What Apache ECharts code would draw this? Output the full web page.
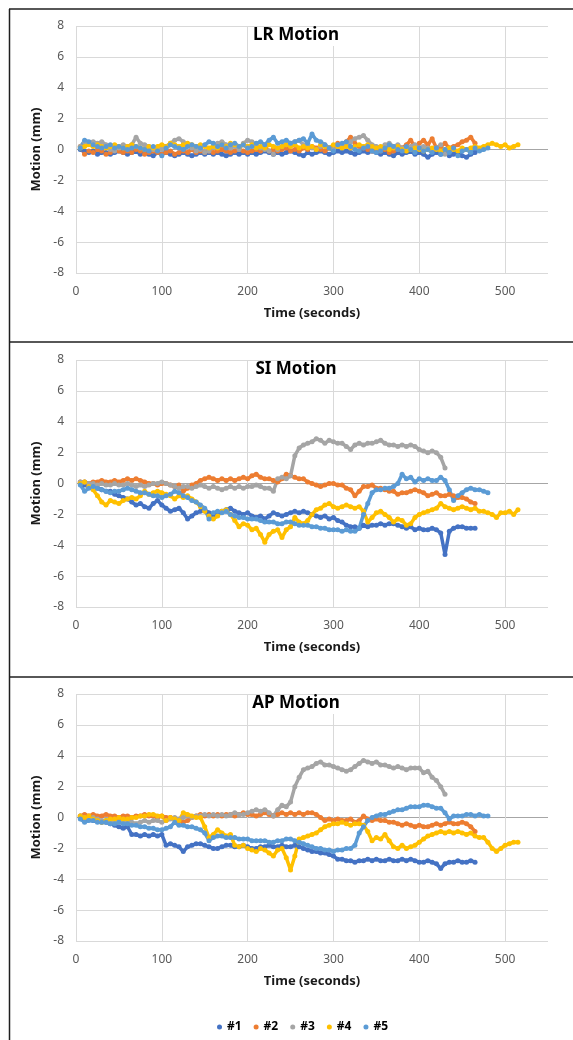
<!DOCTYPE html>
<html>
<head>
<meta charset="utf-8">
<title>Motion</title>
<script src="https://cdn.jsdelivr.net/npm/echarts@6.0.0/dist/echarts.min.js"></script>
<style>
  html, body { margin: 0; padding: 0; background: #fff; }
  #chart { width: 573px; height: 1040px; }
</style>
</head>
<body>
<div id="chart"></div>
<script>
// subjects / colours
var names = ['#1', '#2', '#3', '#4', '#5'];
var colors = ['#4472C4', '#ED7D31', '#A5A5A5', '#FFC000', '#5B9BD5'];
var titles = ['LR Motion', 'SI Motion', 'AP Motion'];
var xTicks = [0, 100, 200, 300, 400, 500];
var yTicks = [-8, -6, -4, -2, 0, 2, 4, 6, 8];

// values, one every 5 s starting at t = 5 s
var t0 = 5, dt = 5;

// LR motion (mm)
var lr1 = [0, -0.1, -0.2, -0.1, -0.3, -0.2, -0.2, -0.3, -0.2, -0.1,
  -0.2, -0.3, -0.2, -0.1, -0.3, -0.2, -0.3, -0.4, -0.2, -0.3,
  -0.2, -0.3, -0.4, -0.3, -0.2, -0.3, -0.4, -0.3, -0.2, -0.3,
  -0.2, -0.3, -0.2, -0.3, -0.4, -0.3, -0.2, -0.3, -0.2, -0.3,
  -0.2, -0.3, -0.2, -0.1, -0.2, -0.3, -0.2, -0.3, -0.2, -0.1,
  -0.2, -0.3, -0.4, -0.2, -0.3, -0.2, -0.1, -0.2, -0.3, -0.2,
  -0.1, -0.2, -0.1, -0.2, -0.3, -0.2, -0.1, -0.2, -0.1, -0.2,
  -0.3, -0.2, -0.3, -0.4, -0.2, -0.3, -0.2, -0.1, -0.3, -0.2,
  -0.3, -0.5, -0.3, -0.2, -0.3, -0.2, -0.4, -0.3, -0.2, -0.4,
  -0.5, -0.3, -0.2];
var lr2 = [0.2, -0.3, -0.1, -0.2, 0, -0.1, -0.3, -0.2, 0.1, -0.1,
  -0.2, -0.1, -0.2, 0, -0.1, -0.3, -0.2, -0.1, -0.2, -0.3,
  -0.2, -0.1, -0.3, -0.2, -0.1, -0.2, 0, -0.2, -0.1, -0.2,
  -0.1, -0.2, -0.1, 0, -0.1, -0.2, -0.1, 0, -0.1, -0.2,
  -0.1, 0, -0.1, 0.1, -0.1, 0, -0.1, 0, 0.1, -0.1,
  0, -0.1, 0.1, 0, 0.2, 0.1, 0, -0.1, 0.1, 0.2,
  0.4, 0.3, 0.5, 0.8, 0.4, 0.2, 0.1, 0, -0.1, 0,
  -0.1, 0, -0.2, -0.1, 0, 0.1, 0.3, 0.6, 0.2, 0.4,
  0.6, 0.3, 0.7, 0.1, 0.2, 0.4, 0.1, 0.2, 0.3, 0.5,
  0.6, 0.8, 0.4];
var lr3 = [0.2, 0.5, 0.4, 0.5, 0.4, 0.5, 0.3, 0, -0.1, 0.1,
  0.3, 0.2, 0.3, 0.8, 0.4, 0.3, 0.2, 0, 0.1, 0,
  0.2, 0.4, 0.6, 0.7, 0.5, 0.3, 0.1, -0.1, 0, -0.2,
  -0.1, 0.2, 0.4, 0.5, 0.3, 0.1, 0.2, 0, 0.4, 0.6,
  0.5, 0.3, 0.1, 0, -0.1, -0.3, 0, 0.2, 0.3, 0.4,
  0.5, 0.6, 0.3, 0.2, 0.1, 0, 0.2, 0.3, 0.1, 0,
  0.2, 0.3, 0.4, 0.5, 0.7, 0.8, 0.9, 0.6, 0.3, 0.2,
  0.1, 0.3, 0.4, 0.2, 0.3, 0.1, 0, 0.2, 0.3, 0.1,
  0.2, 0.1, 0, 0.1, 0.3, -0.3];
var lr4 = [0.1, 0.2, 0.3, 0.2, 0.3, 0.2, 0.1, 0.2, 0.3, 0.2,
  0.1, 0.2, 0.3, 0.2, 0.1, 0, 0.2, 0.1, 0.2, 0.3,
  0.2, 0.4, 0.3, 0.2, 0.3, 0.4, 0.3, 0.2, 0.3, 0.2,
  0.1, 0.2, 0.1, 0.3, 0.2, 0.4, 0.3, 0.2, 0.3, 0.2,
  0.3, 0.1, 0.2, 0.1, 0.3, 0.2, 0.1, 0.2, 0.3, 0.2,
  0.3, 0.1, 0.2, 0.1, 0.2, 0, 0.3, 0.2, 0.1, 0.3,
  0.2, 0.1, 0.2, 0.1, 0.2, 0.3, 0.2, 0.3, 0.2, 0.1,
  0.2, 0.1, 0, 0.1, 0.2, 0, -0.1, 0, 0.1, 0,
  -0.1, 0, 0.1, 0, -0.1, 0, 0.1, 0, -0.1, 0.1,
  0, 0.1, 0.2, 0.1, 0.2, 0.3, 0.4, 0.3, 0.2, 0.3,
  0.1, 0.2, 0.3];
var lr5 = [0.1, 0.6, 0.5, 0.3, 0.2, 0.1, 0.2, 0.3, 0.1, 0.2,
  0.1, 0, 0.1, 0.2, 0.1, 0, -0.1, 0.2, -0.1, -0.4,
  0.1, 0.3, 0.2, 0.1, 0, 0.2, 0.3, 0.2, 0.1, 0.3,
  0.5, 0.4, 0.2, 0.3, 0.1, 0.3, 0.4, 0.2, 0.3, 0.1,
  0.2, 0.4, 0.5, 0.3, 0.6, 0.8, 0.4, 0.5, 0.6, 0.4,
  0.5, 0.6, 0.7, 0.4, 1.0, 0.6, 0.5, 0.3, 0.1, -0.1,
  0.3, 0.4, 0.5, 0.2, 0, -0.1, 0.1, 0.2, -0.1, -0.2,
  -0.1, 0.1, 0.3, 0.2, 0, -0.1, 0.2, 0, -0.2, 0.1,
  -0.1, 0, -0.2, 0.1, -0.3, 0, -0.2, 0.1, -0.4, -0.1,
  0, -0.2, 0.1, -0.1, 0, 0.1];

// SI motion (mm)
var si1 = [0, -0.1, -0.2, -0.2, -0.3, -0.4, -0.5, -0.5, -0.7, -0.8,
  -0.9, -1.0, -1.2, -1.4, -1.3, -1.5, -1.6, -1.3, -1.1, -1.4,
  -1.6, -1.8, -1.7, -1.6, -1.9, -2.3, -2.1, -1.9, -1.8, -1.7,
  -1.9, -2.0, -1.9, -1.8, -1.7, -1.6, -1.8, -1.9, -2.0, -1.9,
  -2.1, -2.2, -2.1, -2.3, -2.1, -1.9, -2.0, -2.1, -2.0, -1.9,
  -1.8, -1.9, -1.8, -1.9, -2.0, -2.1, -2.2, -2.1, -2.3, -2.2,
  -2.4, -2.5, -2.7, -2.8, -2.8, -2.9, -2.7, -2.8, -2.7, -2.7,
  -2.6, -2.7, -2.6, -2.6, -2.7, -2.8, -2.9, -2.8, -3.0, -2.9,
  -3.0, -3.0, -2.9, -3.0, -3.2, -4.6, -3.1, -2.9, -2.8, -2.8,
  -2.9, -2.9, -2.9];
var si2 = [0.1, 0.1, 0, 0.1, 0.1, 0.2, 0.1, 0.1, 0.2, 0.1,
  0.2, 0.3, 0.2, 0.3, 0.2, 0.1, 0, 0, -0.1, 0,
  0, -0.1, -0.2, -0.1, -0.5, -0.3, -0.1, 0, 0.2, 0.3,
  0.4, 0.3, 0.2, 0.3, 0.2, 0.3, 0.2, 0.3, 0.4, 0.3,
  0.5, 0.6, 0.4, 0.3, 0.3, 0.2, 0.1, 0.3, 0.6, 0.5,
  0.4, 0.3, 0.3, 0.1, 0, -0.1, -0.2, -0.1, 0, 0,
  -0.1, -0.1, -0.3, -0.4, -0.8, -0.5, -0.2, -0.2, -0.1, -0.3,
  -0.3, -0.4, -0.5, -0.5, -0.7, -0.6, -0.6, -0.5, -0.4, -0.5,
  -0.6, -0.8, -0.7, -0.6, -0.8, -0.8, -0.7, -0.8, -0.9, -0.9,
  -1.0, -1.2, -1.3];
var si3 = [0.1, 0.1, 0, 0, -0.1, 0, -0.1, -0.1, 0, -0.1,
  -0.1, 0, -0.1, -0.2, -0.1, -0.2, -0.1, 0, 0, 0.1,
  0, -0.1, -0.2, -0.3, -0.2, -0.2, -0.3, -0.2, -0.1, -0.2,
  -0.3, -0.2, -0.3, -0.4, -0.3, -0.2, -0.3, -0.2, -0.3, -0.2,
  -0.2, -0.1, -0.2, -0.3, -0.3, -0.5, 0.3, 0.4, 0.3, 0.5,
  1.8, 2.3, 2.5, 2.6, 2.7, 2.9, 2.8, 2.6, 2.8, 2.7,
  2.6, 2.6, 2.4, 2.2, 2.5, 2.6, 2.5, 2.6, 2.6, 2.7,
  2.8, 2.6, 2.5, 2.5, 2.4, 2.5, 2.4, 2.5, 2.4, 2.2,
  2.1, 2.0, 2.1, 2.0, 1.7, 1.0];
var si4 = [0, 0.1, -0.2, -0.4, -0.8, -1.2, -1.4, -1.1, -1.2, -1.3,
  -1.1, -1.0, -0.9, -1.0, -0.8, -0.5, -0.7, -0.6, -0.5, -0.6,
  -0.7, -0.8, -1.0, -0.8, -0.9, -0.8, -1.0, -1.2, -1.5, -1.8,
  -2.1, -2.3, -2.1, -1.8, -1.7, -2.0, -2.4, -2.8, -2.6, -2.7,
  -3.0, -2.9, -3.3, -3.8, -3.3, -3.1, -3.0, -3.5, -3.0, -2.8,
  -2.2, -2.5, -2.6, -2.4, -2.0, -1.7, -1.6, -1.4, -1.3, -1.5,
  -1.6, -1.5, -1.4, -1.5, -1.6, -1.5, -1.8, -2.5, -2.2, -1.9,
  -1.8, -2.0, -2.2, -2.5, -2.3, -2.4, -2.7, -2.6, -2.2, -2.0,
  -1.9, -1.8, -1.7, -1.6, -1.3, -1.5, -1.6, -1.7, -1.6, -1.5,
  -1.6, -1.7, -1.6, -1.8, -1.8, -1.9, -2.0, -2.2, -1.9, -1.9,
  -1.8, -2.0, -1.7];
var si5 = [-0.1, -0.5, -0.3, -0.2, -0.3, -0.4, -0.5, -0.6, -0.5, -0.5,
  -0.4, -0.3, -0.4, -0.5, -0.6, -0.6, -0.7, -0.8, -0.8, -0.9,
  -0.8, -0.7, -0.5, -0.6, -0.8, -0.9, -1.1, -1.2, -1.4, -1.6,
  -2.3, -1.9, -1.8, -1.9, -1.8, -2.0, -2.1, -2.2, -2.2, -2.3,
  -2.3, -2.3, -2.4, -2.5, -2.5, -2.5, -2.6, -2.6, -2.5, -2.5,
  -2.6, -2.7, -2.7, -2.7, -2.8, -2.8, -2.9, -2.9, -3.0, -3.0,
  -3.0, -3.1, -3.0, -3.1, -3.1, -2.9, -2.0, -1.3, -0.6, -0.4,
  -0.4, -0.3, -0.3, -0.2, 0, 0.6, 0.3, 0.4, 0.1, 0.3,
  0.2, 0.3, 0.2, 0.2, 0.4, 0.2, -0.4, -1.1, -0.8, -0.6,
  -0.4, -0.3, -0.4, -0.4, -0.5, -0.6];

// AP motion (mm)
var ap1 = [0, -0.1, -0.1, -0.2, -0.2, -0.3, -0.3, -0.4, -0.5, -0.6,
  -0.7, -0.6, -1.1, -1.1, -1.2, -1.1, -1.2, -1.1, -1.2, -1.1,
  -1.8, -1.7, -1.8, -1.9, -2.2, -1.9, -1.8, -1.7, -1.7, -1.8,
  -1.9, -2.0, -2.0, -1.9, -1.8, -1.8, -1.9, -1.9, -1.8, -1.9,
  -2.0, -2.0, -1.9, -1.9, -1.8, -1.9, -1.9, -1.8, -1.9, -1.9,
  -1.8, -1.9, -2.0, -2.1, -2.2, -2.2, -2.3, -2.3, -2.4, -2.5,
  -2.7, -2.7, -2.8, -2.8, -2.9, -2.8, -2.8, -2.7, -2.8, -2.7,
  -2.8, -2.8, -2.7, -2.8, -2.8, -2.7, -2.8, -2.7, -2.8, -2.9,
  -2.9, -2.8, -2.9, -3.0, -3.3, -3.0, -2.9, -2.9, -2.8, -2.9,
  -2.9, -2.8, -2.9];
var ap2 = [0.1, 0.2, 0.1, 0.2, 0.1, 0.1, 0.2, 0.1, 0.1, 0,
  0.1, 0.1, 0, 0.1, 0.1, 0.2, 0.1, 0.1, 0, 0.1,
  0, 0, -0.1, -0.2, -0.3, -0.2, 0, 0.1, 0.2, 0.1,
  0.2, 0.1, 0.2, 0.1, 0.2, 0.2, 0.1, 0.2, 0.3, 0.2,
  0.2, 0.1, 0.2, 0.3, 0.2, 0.1, 0.2, 0.3, 0.2, 0.3,
  0.2, 0.3, 0.2, 0.3, 0.3, 0.2, 0, -0.2, -0.1, -0.2,
  -0.1, -0.2, -0.2, -0.1, -0.3, -0.2, 0.1, -0.1, -0.2, -0.1,
  -0.2, -0.2, -0.3, -0.3, -0.4, -0.5, -0.4, -0.5, -0.6, -0.5,
  -0.6, -0.6, -0.5, -0.4, -0.5, -0.4, -0.3, -0.4, -0.4, -0.3,
  -0.4, -0.6, -0.9];
var ap3 = [0.1, 0, -0.1, 0, -0.1, -0.2, -0.2, -0.3, -0.2, -0.3,
  -0.3, -0.2, -0.3, -0.4, -0.3, -0.2, -0.3, -0.2, -0.2, -0.3,
  -0.2, -0.1, 0, -0.1, 0, 0.1, 0, 0.1, 0.1, 0.2,
  0.1, 0.2, 0.1, 0.2, 0.1, 0.2, 0.3, 0.2, 0.2, 0.3,
  0.4, 0.5, 0.4, 0.5, 0.3, 0.1, 0.5, 0.8, 0.7, 1.0,
  2.0, 2.6, 3.1, 3.2, 3.3, 3.5, 3.6, 3.4, 3.4, 3.3,
  3.2, 3.1, 3.0, 3.1, 3.3, 3.5, 3.7, 3.6, 3.5, 3.6,
  3.4, 3.4, 3.3, 3.2, 3.3, 3.2, 3.1, 3.2, 3.2, 3.2,
  2.9, 3.0, 2.6, 2.4, 2.0, 1.5];
var ap4 = [0.1, 0, 0.1, -0.1, -0.2, -0.3, -0.2, -0.1, -0.1, 0,
  -0.1, -0.1, 0, 0, 0.1, 0.1, 0.2, 0.2, 0.1, 0.1,
  -0.2, 0, -0.1, -0.2, 0.3, 0.2, 0.1, 0, 0, -0.6,
  -1.3, -1.1, -0.8, -1.0, -1.2, -1.1, -1.8, -1.9, -1.8, -2.0,
  -2.1, -2.2, -2.0, -2.1, -2.3, -2.5, -2.1, -2.0, -2.6, -3.4,
  -2.5, -1.4, -1.3, -1.2, -1.1, -1.0, -0.8, -0.6, -0.5, -0.4,
  -0.4, -0.3, -0.4, -0.5, -0.4, -0.4, -0.5, -0.9, -1.5, -1.3,
  -1.4, -1.1, -1.5, -1.9, -2.0, -1.8, -2.0, -1.9, -1.8, -1.6,
  -1.4, -1.2, -1.1, -1.0, -0.9, -1.0, -0.9, -1.0, -0.9, -1.0,
  -1.1, -1.0, -1.2, -1.3, -1.3, -1.6, -2.0, -2.2, -2.0, -1.8,
  -1.7, -1.6, -1.6];
var ap5 = [-0.1, -0.3, -0.2, -0.2, -0.3, -0.3, -0.3, -0.4, -0.4, -0.3,
  -0.4, -0.4, -0.5, -0.5, -0.6, -0.6, -0.7, -0.7, -0.8, -0.8,
  -0.7, -0.6, -0.3, -0.5, -0.5, -0.6, -0.6, -0.7, -0.8, -1.0,
  -1.5, -1.3, -1.2, -1.2, -1.3, -1.3, -1.3, -1.4, -1.4, -1.4,
  -1.5, -1.5, -1.5, -1.5, -1.6, -1.6, -1.5, -1.5, -1.4, -1.4,
  -1.5, -1.6, -1.7, -1.8, -1.9, -2.0, -2.0, -2.1, -2.1, -2.2,
  -2.1, -2.1, -2.0, -2.0, -1.8, -1.0, -0.6, -0.2, 0, 0.1,
  0.2, 0.2, 0.3, 0.4, 0.5, 0.5, 0.6, 0.7, 0.7, 0.7,
  0.8, 0.8, 0.7, 0.6, 0.6, 0.3, -0.1, 0.1, 0.1, 0.1,
  0.2, 0.2, 0.1, 0.2, 0.1, 0.1];

var panelData = [
  [lr1, lr2, lr3, lr4, lr5],
  [si1, si2, si3, si4, si5],
  [ap1, ap2, ap3, ap4, ap5]
];
var gridTops = [26, 360, 694];

var grid = [], xAxis = [], yAxis = [], title = [], series = [];
// grid lines light grey, the zero line a bit darker (as in Excel)
var yLineColors = yTicks.map(function (v) { return v === 0 ? '#a6a6a6' : '#d9d9d9'; });

gridTops.forEach(function (top, p) {
  grid.push({ left: 76, top: top, width: 472, height: 247 });
  xAxis.push({
    type: 'value', gridIndex: p, min: 0, max: 550, interval: 100,
    axisLine: { show: false }, axisTick: { show: false },
    axisLabel: {
      color: '#595959', fontSize: 12, margin: 13, fontFamily: 'Noto Sans',
      formatter: function (v) { return xTicks.indexOf(v) >= 0 ? String(v) : ''; }
    },
    splitLine: { show: true, showMaxLine: false, lineStyle: { color: '#d9d9d9', width: 1 } },
    name: 'Time (seconds)', nameLocation: 'middle', nameGap: 34,
    nameTextStyle: { color: '#1a1a1a', fontWeight: 'bold', fontSize: 13, fontFamily: 'Noto Sans' }
  });
  yAxis.push({
    type: 'value', gridIndex: p, min: -8, max: 8, interval: 2,
    axisLine: { show: false }, axisTick: { show: false },
    axisLabel: { color: '#595959', fontSize: 12, margin: 12, fontFamily: 'Noto Sans' },
    splitLine: { show: true, lineStyle: { color: yLineColors, width: 1 } },
    name: 'Motion (mm)', nameLocation: 'middle', nameGap: 28, nameRotate: 90,
    nameTextStyle: { color: '#1a1a1a', fontWeight: 'bold', fontSize: 13, fontFamily: 'Noto Sans' }
  });
  title.push({
    text: titles[p], left: 292, top: top + 1, textAlign: 'center',
    backgroundColor: '#fff', padding: [0, 4, 2, 4],
    textStyle: { color: '#000', fontWeight: 'bold', fontSize: 17, fontFamily: 'Noto Sans' }
  });
  panelData[p].forEach(function (vals, s) {
    series.push({
      name: names[s], type: 'line', xAxisIndex: p, yAxisIndex: p,
      data: vals.map(function (v, i) { return [t0 + i * dt, v]; }),
      symbol: 'circle', symbolSize: 5, showSymbol: true, showAllSymbol: true,
      lineStyle: { width: 3.5, color: colors[s] },
      itemStyle: { color: colors[s] },
      silent: true
    });
  });
});

var border = { stroke: '#1f1f1f', lineWidth: 1.5 };
var chart = echarts.init(document.getElementById('chart'));
chart.setOption({
  animation: false,
  color: colors,
  grid: grid, xAxis: xAxis, yAxis: yAxis, title: title, series: series,
  legend: {
    data: names, left: 212, top: 1016,
    icon: 'circle', itemWidth: 5, itemHeight: 5, itemGap: 12,
    textStyle: { color: '#000', fontWeight: 'bold', fontSize: 12, fontFamily: 'Noto Sans' }
  },
  graphic: [
    { type: 'line', shape: { x1: 9, y1: 9, x2: 573, y2: 9 }, style: border, silent: true },
    { type: 'line', shape: { x1: 9, y1: 342, x2: 573, y2: 342 }, style: border, silent: true },
    { type: 'line', shape: { x1: 9, y1: 677, x2: 573, y2: 677 }, style: border, silent: true },
    { type: 'line', shape: { x1: 9.5, y1: 9, x2: 9.5, y2: 1040 }, style: border, silent: true }
  ]
});
</script>
</body>
</html>
